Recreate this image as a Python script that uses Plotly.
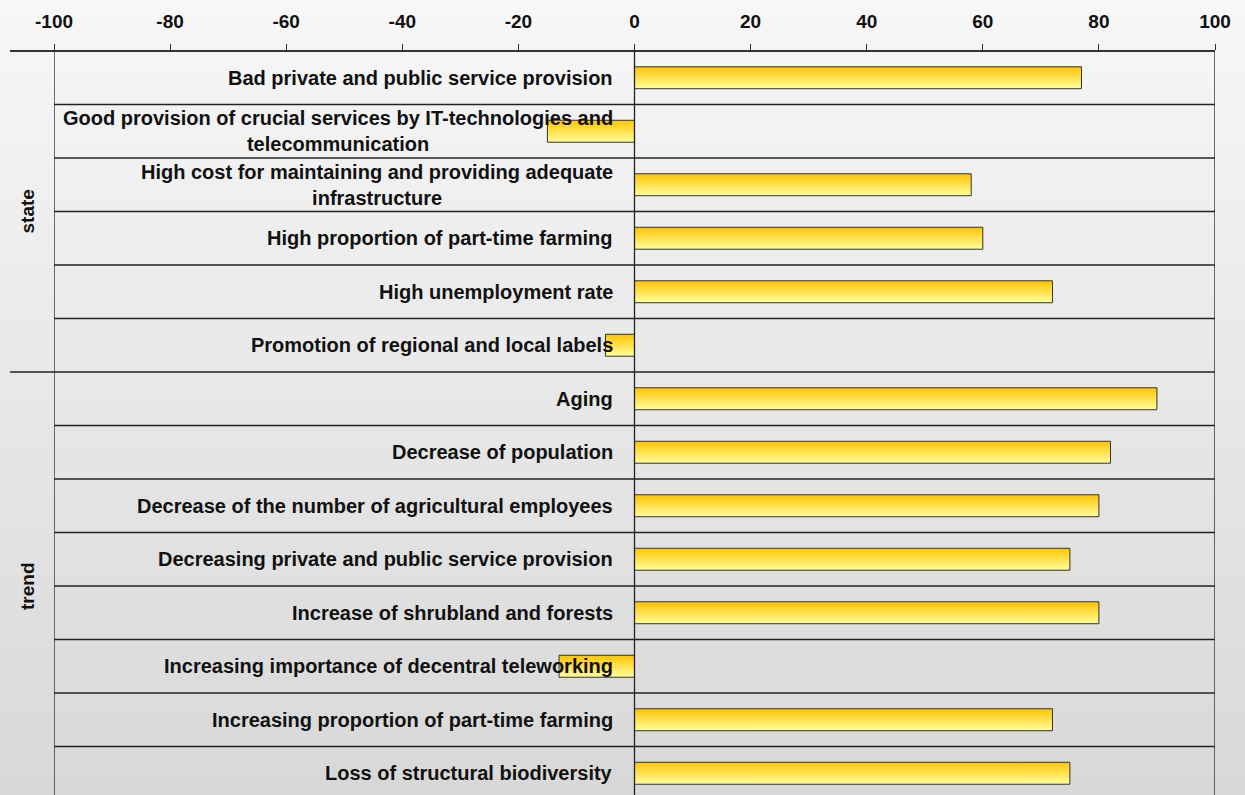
import plotly.graph_objects as go

groups = ["state"] * 6 + ["trend"] * 8
categories = [
    "Bad private and public service provision",
    "Good provision of crucial services by IT-technologies and<br>telecommunication",
    "High cost for maintaining and providing adequate<br>infrastructure",
    "High proportion of part-time farming",
    "High unemployment rate",
    "Promotion of regional and local labels",
    "Aging",
    "Decrease of population",
    "Decrease of the number of agricultural employees",
    "Decreasing private and public service provision",
    "Increase of shrubland and forests",
    "Increasing importance of decentral teleworking",
    "Increasing proportion of part-time farming",
    "Loss of structural biodiversity",
]
values = [77, -15, 58, 60, 72, -5, 90, 82, 80, 75, 80, -13, 72, 75]
tick_vals = [-100, -80, -60, -40, -20, 0, 20, 40, 60, 80, 100]
tick_text = ["-100", "-80", "-60", "-40", "-20", "0", "20", "40", "60", "80", "100"]

W, H = 1245, 795
L, R, T, B = 54, 30, 51, 0
pw, ph = W - L - R, H - T - B
row_px = 53.5
n = len(categories)
y_range = [-0.5 + ph / row_px, -0.5]

FONT = "Liberation Sans, Arial, sans-serif"
fig = go.Figure()

# bars with vertical gradient
half = 0.205
for i, v in enumerate(values):
    fig.add_trace(go.Scatter(
        x=[0, v, v, 0, 0],
        y=[i - half, i - half, i + half, i + half, i - half],
        mode="lines",
        fill="toself",
        fillgradient=dict(type="vertical",
                          colorscale=[[0, "#ffc400"], [0.5, "#ffe150"], [1, "#ffff9c"]],
                          start=i - half, stop=i + half),
        line=dict(color="#333333", width=1),
        hoverinfo="skip",
        showlegend=False,
    ))

shapes = []
# background gradient bands (whole figure)
nb = 80
top_c, bot_c = (247, 247, 247), (216, 216, 216)
y_top_paper = H / ph
for k in range(nb):
    t = k / (nb - 1)
    c = tuple(round(top_c[j] + (bot_c[j] - top_c[j]) * t) for j in range(3))
    shapes.append(dict(type="rect", xref="paper", yref="paper",
                       x0=-L / pw, x1=(W - L) / pw,
                       y0=y_top_paper - (k + 1) * y_top_paper / nb - 0.002,
                       y1=y_top_paper - k * y_top_paper / nb,
                       fillcolor="rgb(%d,%d,%d)" % c, line=dict(width=0), layer="below"))

xl = (10 - L) / pw
# row separator lines
for i in range(n - 1):
    boundary = groups[i] != groups[i + 1]
    shapes.append(dict(type="line", xref="paper" if boundary else "x", yref="y",
                       x0=xl if boundary else -100, x1=1 if boundary else 100,
                       y0=i + 0.5, y1=i + 0.5,
                       line=dict(color="#222222", width=1.3)))
# top axis line
shapes.append(dict(type="line", xref="paper", yref="paper", x0=xl, x1=1, y0=1, y1=1,
                   line=dict(color="#333333", width=2)))
# vertical lines: left border, zero line, right border
for xv in (-100, 0, 100):
    shapes.append(dict(type="line", xref="x", yref="paper", x0=xv, x1=xv, y0=0, y1=1,
                       line=dict(color="#222222", width=1.3)))

annotations = []
for i, c in enumerate(categories):
    annotations.append(dict(x=-3.4, y=i, xref="x", yref="y", text=c, showarrow=False,
                            xanchor="right", yanchor="middle", align="center",
                            font=dict(family=FONT, size=20, color="#111111", weight="bold")))

# group labels, centred on their rows
for g in ["state", "trend"]:
    idx = [i for i, gg in enumerate(groups) if gg == g]
    annotations.append(dict(x=(27 - L) / pw, xref="paper", y=(idx[0] + idx[-1]) / 2, yref="y",
                            text=g, showarrow=False, textangle=-90,
                            xanchor="center", yanchor="middle",
                            font=dict(family=FONT, size=19, color="#111111", weight="bold")))

fig.update_layout(
    width=W, height=H,
    margin=dict(l=L, r=R, t=T, b=B),
    paper_bgcolor="#e6e6e6",
    plot_bgcolor="rgba(0,0,0,0)",
    shapes=shapes,
    annotations=annotations,
    xaxis=dict(range=[-100, 100], side="top", tickvals=tick_vals, ticktext=tick_text,
               ticks="outside", ticklen=6, tickwidth=1, tickcolor="#333333",
               ticklabelstandoff=8,
               showgrid=False, zeroline=False, showline=False,
               tickfont=dict(family=FONT, size=19, color="#111111", weight="bold")),
    yaxis=dict(range=y_range, showticklabels=False, showgrid=False, zeroline=False,
               ticks="", showline=False),
)

fig.write_html("out.html")
